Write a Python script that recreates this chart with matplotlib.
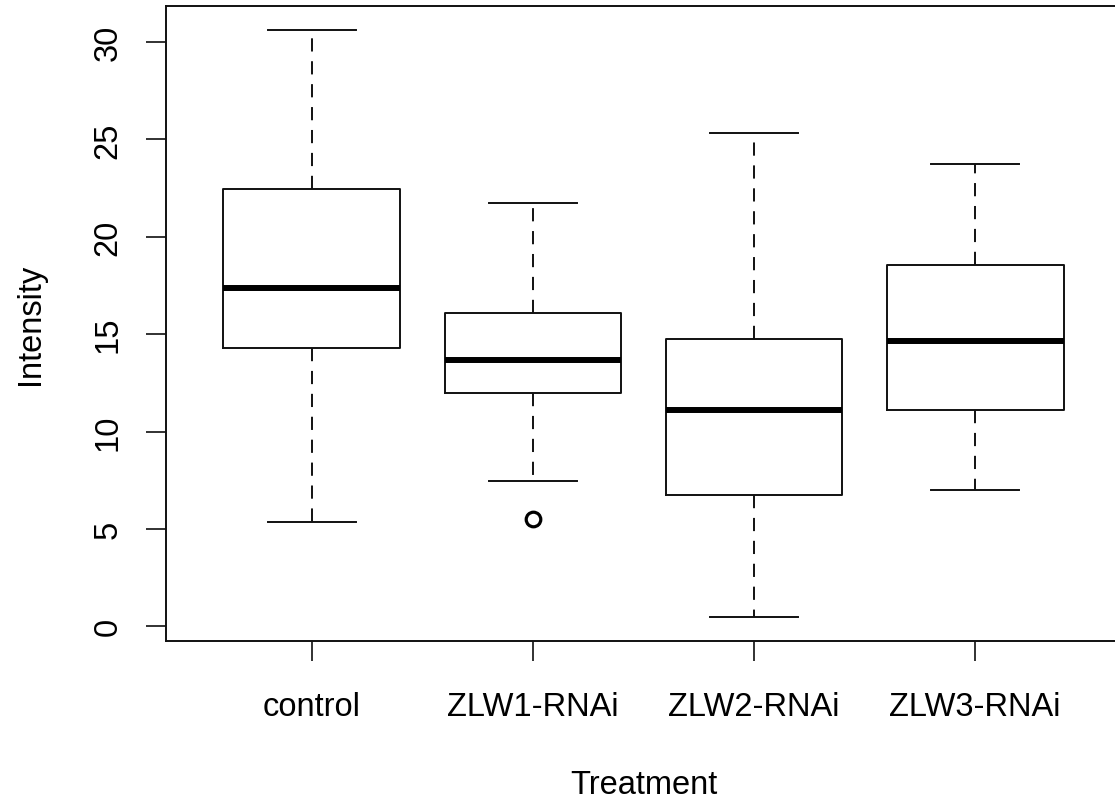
import matplotlib
matplotlib.use("Agg")
import matplotlib.pyplot as plt

# Summary statistics per treatment group
groups = ["control", "ZLW1-RNAi", "ZLW2-RNAi", "ZLW3-RNAi"]
whisker_low = [5.38, 7.46, 0.46, 6.99]
quartile1 = [14.27, 11.96, 6.73, 11.12]
medians = [17.39, 13.69, 11.12, 14.64]
quartile3 = [22.45, 16.09, 14.76, 18.54]
whisker_high = [30.64, 21.73, 25.35, 23.72]
outliers = [[], [5.50], [], []]

y_ticks = [0, 5, 10, 15, 20, 25, 30]

plt.rcParams["font.family"] = ["Liberation Sans", "DejaVu Sans"]
plt.rcParams["lines.scale_dashes"] = False

fig = plt.figure(figsize=(11.15, 8.03), dpi=100)
ax = fig.add_axes([166 / 1115, 1 - 642 / 803, 955 / 1115, 635 / 803])

stats = []
for name, lo, a, m, b, hi, fl in zip(groups, whisker_low, quartile1, medians,
                                     quartile3, whisker_high, outliers):
    stats.append(dict(label=name, whislo=lo, q1=a, med=m, q3=b,
                      whishi=hi, fliers=fl))

lw = 1.4
ax.bxp(stats, positions=range(1, len(groups) + 1), widths=0.8, capwidths=0.4,
       showfliers=True,
       boxprops=dict(color="#111111", linewidth=lw),
       medianprops=dict(color="black", linewidth=4.3, solid_capstyle="butt"),
       whiskerprops=dict(color="#111111", linewidth=lw,
                         linestyle=(0, (9.5, 7.0))),
       capprops=dict(color="#111111", linewidth=lw),
       flierprops=dict(marker="o", markersize=10.5, markerfacecolor="none",
                       markeredgecolor="black", markeredgewidth=2.3))

ax.set_xlim(0.34, 4.66)
ax.set_ylim(-0.75, 31.85)

ax.set_yticks(y_ticks)
ax.set_yticklabels([str(v) for v in y_ticks], rotation=90, va="center")
ax.set_xticks(range(1, len(groups) + 1))
ax.set_xticklabels(groups)

ax.tick_params(axis="both", length=14.5, width=1.3, color="#222222",
               labelsize=23.5, direction="out")
ax.tick_params(axis="x", pad=21.5)
ax.tick_params(axis="y", pad=16)

for s in ax.spines.values():
    s.set_linewidth(1.4)
    s.set_color("#111111")

ax.set_xlabel("Treatment", fontsize=23.5, labelpad=34)
ax.set_ylabel("Intensity", fontsize=23.5, labelpad=33.5)

fig.savefig("out.png", dpi=100)
